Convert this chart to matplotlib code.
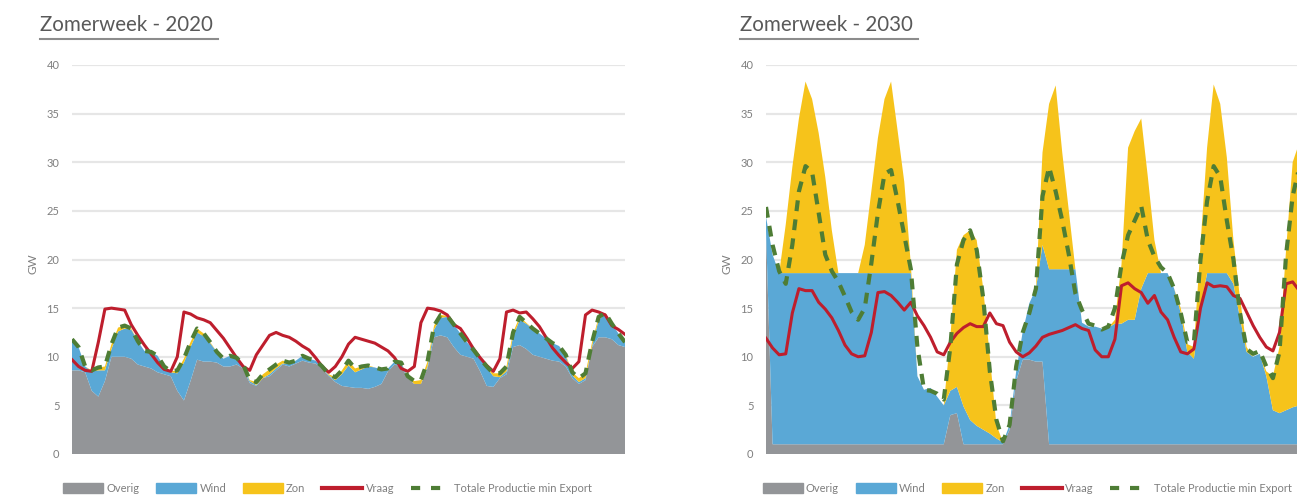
import matplotlib
matplotlib.use("Agg")
import matplotlib.pyplot as plt
from matplotlib.patches import Patch
from matplotlib.lines import Line2D

plt.rcParams['font.family'] = ['Lato', 'DejaVu Sans']

# hours in the week, one value every 2 hours
uren_2020 = list(range(0, 169, 2))
uren_2030 = list(range(0, 163, 2))

# ---- Zomerweek 2020 (GW) ----
overig_2020 = [8.6, 8.6, 8.4, 6.5, 5.9, 7.5, 10.0, 10.0, 10.0, 9.8, 9.2, 9.0,
               8.8, 8.4, 8.2, 8.0, 6.5, 5.5, 7.5, 9.7, 9.5, 9.5, 9.4, 9.0,
               9.0, 9.2, 8.8, 7.3, 7.0, 7.8, 8.0, 8.6, 9.2, 9.0, 9.3, 9.6,
               9.4, 9.3, 8.8, 8.0, 7.4, 7.0, 6.9, 6.8, 6.8, 6.7, 6.9, 7.2,
               8.5, 9.2, 9.0, 7.8, 7.2, 7.2, 8.8, 12.0, 12.2, 12.0, 11.0, 10.2,
               10.0, 9.8, 8.5, 7.0, 6.9, 7.8, 8.2, 11.0, 11.2, 10.8, 10.2, 10.0,
               9.8, 9.6, 9.5, 9.0, 7.8, 7.2, 7.6, 11.0, 12.0, 12.0, 11.8, 11.2,
               11.0]
wind_2020 = [3.2, 2.4, 0.6, 2.0, 2.7, 1.1, 0.8, 2.6, 2.9, 3.0, 2.4, 1.6,
             1.7, 1.7, 0.8, 0.4, 1.8, 3.9, 3.5, 2.8, 2.6, 1.9, 1.1, 0.8,
             1.1, 0.7, 0.4, 0.2, 0.1, 0.0, 0.2, 0.2, 0.1, 0.3, 0.3, 0.5,
             0.4, 0.3, 0.2, 0.1, 0.2, 1.2, 2.2, 1.6, 1.9, 2.3, 2.0, 1.5,
             0.3, 0.3, 0.4, 0.1, 0.0, 0.0, 0.2, 0.8, 1.8, 2.1, 2.3, 2.2,
             1.5, 0.9, 1.3, 1.9, 1.1, 0.1, 0.3, 1.1, 2.6, 2.6, 2.7, 2.4,
             2.1, 1.8, 1.6, 1.1, 0.3, 0.2, 0.2, 0.1, 1.8, 2.4, 1.6, 1.2,
             0.5]
zon_2020 = [0, 0, 0, 0.1, 0.3, 0.4, 0.5, 0.4, 0.3, 0.1, 0, 0,
            0, 0, 0, 0.1, 0.3, 0.4, 0.5, 0.4, 0.3, 0.1, 0, 0,
            0, 0, 0, 0.1, 0.3, 0.4, 0.5, 0.4, 0.3, 0.1, 0, 0,
            0, 0, 0, 0.1, 0.3, 0.4, 0.5, 0.4, 0.3, 0.1, 0, 0,
            0, 0, 0, 0.1, 0.3, 0.4, 0.5, 0.4, 0.3, 0.1, 0, 0,
            0, 0, 0, 0.1, 0.3, 0.4, 0.5, 0.4, 0.3, 0.1, 0, 0,
            0, 0, 0, 0.1, 0.3, 0.4, 0.5, 0.4, 0.3, 0.1, 0, 0,
            0]
vraag_2020 = [9.7, 9.0, 8.6, 8.5, 11.5, 14.9, 15.0, 14.9, 14.8, 13.3, 12.2, 11.2,
              10.3, 9.4, 8.7, 8.5, 10.0, 14.6, 14.4, 14.0, 13.8, 13.5, 12.7, 11.9,
              10.9, 9.9, 9.0, 8.6, 10.2, 11.2, 12.2, 12.5, 12.2, 12.0, 11.6, 11.1,
              10.7, 9.9, 9.0, 8.4, 9.0, 10.0, 11.3, 12.0, 11.8, 11.6, 11.4, 11.0,
              10.6, 9.9, 8.8, 8.5, 9.0, 13.5, 15.0, 14.9, 14.7, 14.3, 13.3, 12.9,
              11.9, 10.8, 9.9, 9.1, 8.5, 9.8, 14.6, 14.8, 14.5, 14.6, 13.9, 13.1,
              12.0, 10.9, 10.1, 9.4, 8.8, 9.5, 14.3, 14.8, 14.6, 14.3, 13.2, 12.8,
              12.3]
totaal_2020 = [11.8, 11.0, 9.0, 8.6, 8.9, 9.0, 11.3, 13.0, 13.2, 12.9, 11.6, 10.6,
               10.5, 10.1, 9.0, 8.5, 8.6, 9.8, 11.5, 12.9, 12.4, 11.5, 10.5, 9.8,
               10.1, 9.9, 9.2, 7.6, 7.4, 8.2, 8.7, 9.2, 9.6, 9.4, 9.6, 10.1,
               9.8, 9.6, 9.0, 8.2, 7.9, 8.6, 9.6, 8.8, 9.0, 9.1, 8.9, 8.7,
               8.8, 9.5, 9.4, 8.0, 7.5, 7.6, 9.5, 13.2, 14.3, 14.2, 13.3, 12.4,
               11.5, 10.7, 9.8, 9.0, 8.3, 8.3, 9.0, 12.5, 14.1, 13.5, 12.9, 12.4,
               11.9, 11.4, 11.1, 10.2, 8.4, 7.8, 8.3, 11.5, 14.1, 14.5, 13.4, 12.4,
               11.5]

# ---- Zomerweek 2030 (GW) ----
overig_2030 = ([23.0] + [1.0] * 27 + [4.0, 4.2] + [1.0] * 7
               + [2.5, 7.5, 9.7, 9.7, 9.5, 9.5] + [1.0] * 39)
wind_2030 = [1.4, 19.5, 17.6, 17.6, 17.6, 17.6, 17.6, 17.6, 17.6, 17.6, 17.6, 17.6,
             17.6, 17.6, 17.6, 17.6, 17.6, 17.6, 17.6, 17.6, 17.6, 17.6, 17.6, 7.0,
             5.6, 5.8, 4.9, 4.0, 2.5, 2.7, 3.9, 2.5, 1.9, 1.5, 1.1, 0.6,
             0.2, 0.5, 1.0, 2.9, 5.8, 7.5, 12.0, 18.0, 18.0, 18.0, 18.0, 18.0,
             12.5, 12.1, 12.1, 11.9, 12.0, 12.4, 12.4, 12.8, 12.8, 16.0, 17.6, 17.6,
             17.6, 17.6, 16.0, 13.5, 9.5, 8.8, 14.0, 17.6, 17.6, 17.6, 17.6, 16.5,
             13.0, 9.5, 9.0, 9.3, 7.0, 3.5, 3.2, 3.5, 3.8, 4.0]
zon_2030 = [0, 0, 0, 5.0, 10.9, 15.9, 19.7, 17.9, 14.4, 9.9, 4.4, 0,
            0, 0, 0, 2.9, 8.4, 13.9, 17.9, 19.7, 14.6, 9.4, 0.9, 0,
            0, 0, 0, 0, 5.5, 14.1, 17.6, 19.5, 19.1, 14.5, 7.9, 1.4,
            0, 0, 0, 0, 0, 0, 9.5, 17.0, 18.9, 12.0, 6.0, 0,
            0, 0, 0, 0, 0, 0.4, 6.1, 17.7, 19.4, 17.5, 9.9, 3.4,
            0, 0, 0, 0.5, 0.8, 1.2, 6.5, 12.9, 19.4, 17.4, 11.9, 4.5,
            2.0, 0.5, 0, 0, 0.5, 3.5, 6.8, 16.5, 25.2, 27.0]
vraag_2030 = [11.9, 10.9, 10.2, 10.3, 14.5, 17.0, 16.8, 16.8, 15.6, 14.9, 14.0, 12.7,
              11.2, 10.3, 10.0, 10.1, 12.5, 16.6, 16.7, 16.3, 15.6, 14.8, 15.6, 14.2,
              13.2, 12.0, 10.5, 10.2, 11.5, 12.4, 13.0, 13.4, 13.1, 13.1, 14.5, 13.4,
              13.2, 11.5, 10.5, 10.0, 10.4, 11.1, 12.0, 12.3, 12.5, 12.7, 13.0, 13.3,
              12.9, 12.7, 10.7, 10.0, 10.0, 11.8, 17.3, 17.6, 17.0, 16.6, 15.5, 16.3,
              14.6, 13.8, 12.0, 10.5, 10.3, 10.8, 15.0, 17.6, 17.2, 17.3, 17.2, 16.3,
              16.0, 14.6, 13.2, 12.0, 11.0, 10.6, 12.5, 17.5, 17.7, 16.8]
totaal_2030 = [25.4, 21.5, 18.8, 17.5, 21.5, 27.0, 29.6, 29.0, 24.8, 20.5, 18.8, 17.7,
               16.2, 14.6, 13.8, 15.0, 19.6, 24.8, 28.8, 29.2, 26.0, 22.5, 19.0, 11.0,
               6.6, 6.5, 6.2, 5.6, 11.0, 19.5, 22.0, 23.0, 21.0, 16.0, 8.5, 3.5,
               1.3, 3.0, 9.0, 12.5, 14.5, 17.0, 26.5, 29.5, 27.0, 24.0, 20.5, 16.5,
               14.8, 13.4, 13.2, 12.8, 13.1, 15.0, 19.5, 22.5, 24.0, 25.5, 22.0, 20.3,
               19.2, 18.6, 17.0, 14.5, 11.5, 11.5, 20.0, 26.0, 29.6, 28.5, 24.0, 20.0,
               14.5, 10.8, 10.3, 10.6, 9.0, 7.8, 10.5, 20.5, 26.5, 29.5]

c_overig = '#939598'
c_wind = '#5aa8d6'
c_zon = '#f6c31b'
c_vraag = '#be1e2d'
c_totaal = '#4e7d35'
c_tekst = '#7f7f7f'

fig = plt.figure(figsize=(12.97, 5.01), dpi=100)

W, H = 1297, 501
panelen = [
    (72, 40, 'Zomerweek - 2020', uren_2020, overig_2020, wind_2020, zon_2020,
     vraag_2020, totaal_2020, 0.462),
    (766, 740, 'Zomerweek - 2030', uren_2030, overig_2030, wind_2030, zon_2030,
     vraag_2030, totaal_2030, 0.472),
]

for left, tx, titel, x, ov, wi, zo, vr, tot, lx in panelen:
    ax = fig.add_axes([left / W, (H - 454) / H, 553 / W, (454 - 65) / H])
    ax.stackplot(x, ov, wi, zo, colors=[c_overig, c_wind, c_zon], linewidth=0)
    ax.plot(x, vr, color=c_vraag, lw=2.2, solid_joinstyle='round')
    ax.plot(x, tot, color=c_totaal, lw=3, dashes=(2.6, 2.0))
    ax.set_xlim(0, 168)
    ax.set_ylim(0, 40)
    ax.set_yticks(range(0, 41, 5))
    ax.set_xticks([])
    ax.yaxis.grid(True, color='#e6e6e6', lw=1.6)
    ax.set_axisbelow(True)
    for s in ax.spines.values():
        s.set_visible(False)
    ax.tick_params(axis='y', length=0, pad=9, labelsize=8, labelcolor=c_tekst)
    ax.text(-0.07, 0.49, 'GW', rotation=90, transform=ax.transAxes,
            ha='center', va='center', fontsize=8.5, color=c_tekst)

    # title with underline
    fig.text(tx / W, 1 - 25 / H, titel, fontsize=14.8, color='#595959',
             ha='left', va='center')
    fig.add_artist(Line2D([tx / W, (tx + 178) / W], [1 - 39 / H, 1 - 39 / H],
                          color='#8c8c8c', lw=1.5))

    handles = [Patch(color=c_overig), Patch(color=c_wind), Patch(color=c_zon),
               Line2D([], [], color=c_vraag, lw=3),
               Line2D([], [], color=c_totaal, lw=3, dashes=(2.2, 2.6))]
    labels = ['Overig', 'Wind', 'Zon', 'Vraag', 'Totale Productie min Export']
    leg = ax.legend(handles, labels, loc='center', bbox_to_anchor=(lx, -0.088),
                    ncol=5, frameon=False, fontsize=8, handlelength=3.6,
                    handleheight=0.9, columnspacing=1.5, handletextpad=0.3)
    for t in leg.get_texts():
        t.set_color(c_tekst)

fig.savefig('out.png', dpi=100)
